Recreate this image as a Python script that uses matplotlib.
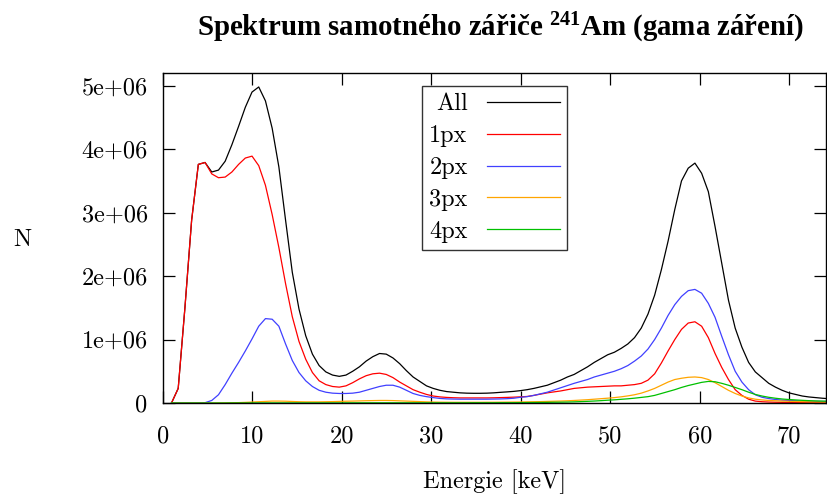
import numpy as np
import matplotlib
matplotlib.use("Agg")
import matplotlib.pyplot as plt

# Energy bin centres [keV]
energy = np.round(0.95 + 0.75 * np.arange(99), 2)

# Counts in millions
all_px = [0, 0.23, 1.50, 2.88, 3.76, 3.79, 3.64, 3.67, 3.81, 4.07,
          4.36, 4.66, 4.90, 4.98, 4.76, 4.33, 3.72, 2.88, 2.06, 1.48,
          1.06, 0.77, 0.59, 0.49, 0.44, 0.42, 0.44, 0.50, 0.57, 0.66,
          0.73, 0.78, 0.77, 0.71, 0.62, 0.51, 0.41, 0.34, 0.27, 0.23,
          0.20, 0.18, 0.17, 0.16, 0.155, 0.153, 0.153, 0.155, 0.16, 0.168,
          0.175, 0.183, 0.195, 0.21, 0.23, 0.255, 0.28, 0.32, 0.36, 0.41,
          0.45, 0.51, 0.57, 0.64, 0.70, 0.76, 0.80, 0.86, 0.93, 1.03,
          1.18, 1.40, 1.70, 2.10, 2.55, 3.05, 3.50, 3.70, 3.78, 3.62,
          3.33, 2.78, 2.20, 1.62, 1.18, 0.88, 0.64, 0.49, 0.40, 0.31,
          0.25, 0.20, 0.16, 0.135, 0.11, 0.095, 0.085, 0.075, 0.068]

px1 = [0, 0.23, 1.50, 2.88, 3.76, 3.79, 3.61, 3.55, 3.56, 3.64,
       3.76, 3.86, 3.89, 3.74, 3.43, 2.97, 2.45, 1.88, 1.36, 0.97,
       0.69, 0.48, 0.35, 0.29, 0.26, 0.25, 0.27, 0.32, 0.38, 0.43,
       0.46, 0.47, 0.45, 0.40, 0.33, 0.27, 0.21, 0.17, 0.135, 0.11,
       0.096, 0.088, 0.083, 0.08, 0.08, 0.08, 0.08, 0.08, 0.082, 0.085,
       0.088, 0.092, 0.097, 0.103, 0.12, 0.14, 0.16, 0.175, 0.19, 0.21,
       0.23, 0.24, 0.25, 0.255, 0.26, 0.265, 0.27, 0.27, 0.28, 0.29,
       0.31, 0.36, 0.46, 0.63, 0.82, 1.00, 1.16, 1.26, 1.28, 1.21,
       1.03, 0.78, 0.56, 0.37, 0.21, 0.12, 0.06, 0.03, 0.02, 0.015,
       0.012, 0.01, 0.008, 0.007, 0.006, 0.005, 0.005, 0.004, 0.004]

px2 = [0, 0, 0, 0, 0, 0.005, 0.04, 0.13, 0.29, 0.47,
       0.64, 0.82, 1.01, 1.21, 1.33, 1.32, 1.21, 0.93, 0.67, 0.48,
       0.35, 0.26, 0.20, 0.17, 0.155, 0.15, 0.15, 0.155, 0.17, 0.20,
       0.23, 0.26, 0.28, 0.28, 0.25, 0.20, 0.15, 0.12, 0.10, 0.085,
       0.072, 0.065, 0.062, 0.06, 0.06, 0.06, 0.06, 0.06, 0.062, 0.064,
       0.068, 0.075, 0.09, 0.10, 0.12, 0.145, 0.17, 0.205, 0.24, 0.275,
       0.31, 0.34, 0.37, 0.41, 0.44, 0.47, 0.50, 0.54, 0.59, 0.66,
       0.74, 0.85, 1.00, 1.18, 1.38, 1.55, 1.68, 1.77, 1.79, 1.73,
       1.57, 1.35, 1.05, 0.76, 0.50, 0.33, 0.21, 0.13, 0.09, 0.07,
       0.055, 0.045, 0.04, 0.035, 0.03, 0.028, 0.026, 0.025, 0.024]

px3 = [0, 0, 0, 0, 0, 0, 0, 0.001, 0.002, 0.004,
       0.006, 0.01, 0.015, 0.02, 0.025, 0.03, 0.03, 0.028, 0.024, 0.02,
       0.018, 0.018, 0.018, 0.02, 0.022, 0.025, 0.028, 0.03, 0.033, 0.036,
       0.038, 0.04, 0.04, 0.038, 0.034, 0.03, 0.026, 0.022, 0.018, 0.015,
       0.013, 0.012, 0.011, 0.011, 0.011, 0.011, 0.011, 0.012, 0.012, 0.013,
       0.014, 0.015, 0.016, 0.018, 0.02, 0.022, 0.025, 0.028, 0.031, 0.035,
       0.04, 0.046, 0.052, 0.06, 0.068, 0.076, 0.085, 0.097, 0.112, 0.13,
       0.155, 0.19, 0.23, 0.28, 0.33, 0.37, 0.39, 0.405, 0.41, 0.40,
       0.37, 0.32, 0.26, 0.20, 0.15, 0.11, 0.08, 0.06, 0.048, 0.04,
       0.035, 0.03, 0.027, 0.024, 0.021, 0.019, 0.017, 0.015, 0.014]

px4 = [0, 0, 0, 0, 0, 0, 0, 0, 0, 0.001,
       0.001, 0.001, 0.002, 0.002, 0.002, 0.002, 0.002, 0.002, 0.002, 0.002,
       0.002, 0.002, 0.002, 0.002, 0.002, 0.002, 0.003, 0.003, 0.003, 0.003,
       0.003, 0.003, 0.003, 0.003, 0.003, 0.003, 0.003, 0.003, 0.003, 0.003,
       0.003, 0.003, 0.003, 0.003, 0.003, 0.004, 0.004, 0.004, 0.004, 0.005,
       0.005, 0.005, 0.006, 0.007, 0.008, 0.009, 0.01, 0.012, 0.013, 0.015,
       0.018, 0.022, 0.026, 0.031, 0.037, 0.044, 0.05, 0.058, 0.066, 0.076,
       0.088, 0.10, 0.12, 0.15, 0.18, 0.21, 0.245, 0.275, 0.30, 0.325,
       0.34, 0.335, 0.31, 0.28, 0.245, 0.21, 0.17, 0.135, 0.11, 0.09,
       0.075, 0.063, 0.055, 0.048, 0.042, 0.037, 0.033, 0.03, 0.028]

series_labels = ["All", "1px", "2px", "3px", "4px"]
series_colors = ["#000000", "#ff0000", "#4040ff", "#ffa500", "#00c000"]

x_ticks = [0, 10, 20, 30, 40, 50, 60, 70]
y_ticks = [0, 1e6, 2e6, 3e6, 4e6, 5e6]
y_tick_labels = ["0", "1e+06", "2e+06", "3e+06", "4e+06", "5e+06"]

plt.rcParams['mathtext.fontset'] = 'custom'
plt.rcParams['mathtext.rm'] = 'Liberation Serif'
plt.rcParams['mathtext.bf'] = 'Liberation Serif:bold'
plt.rcParams['axes.unicode_minus'] = False
FONT = ['cmr10', 'DejaVu Serif']
FS = 17.5

fig = plt.figure(figsize=(8.27, 4.94), dpi=100)
ax = fig.add_axes([163 / 827, 1 - 403 / 494, 663 / 827, 330 / 494])

series = [all_px, px1, px2, px3, px4]
for vals, lab, col in zip(series, series_labels, series_colors):
    ax.plot(energy, np.array(vals) * 1e6, color=col, lw=0.9, label=lab)

ax.set_xlim(0, 74.1)
ax.set_ylim(0, 5.2e6)
ax.set_xticks(x_ticks)
ax.set_xticklabels([str(t) for t in x_ticks], fontfamily=FONT, fontsize=FS)
ax.set_yticks(y_ticks)
ax.set_yticklabels(y_tick_labels, fontfamily=FONT, fontsize=FS)
ax.tick_params(direction='in', length=8.5, width=0.9, top=True, right=True,
               pad=11, color='black')
ax.tick_params(axis='x', pad=16)
for s in ax.spines.values():
    s.set_linewidth(1.0)

ax.set_xlabel("Energie [keV]", fontfamily=FONT, fontsize=FS, labelpad=16)
fig.text(22 / 827, 1 - 240 / 494, "N", fontfamily=FONT, fontsize=FS,
         ha='center', va='center')

fig.text(500 / 827, 1 - 28 / 494,
         r"Spektrum samotného zářiče $\mathbf{^{241}}$Am (gama záření)",
         fontfamily='Liberation Serif', fontweight='bold', fontsize=20.8,
         ha='center', va='center')

leg = ax.legend(loc='upper left', bbox_to_anchor=((422 - 163) / 663, (403 - 86) / 330),
                borderaxespad=0, markerfirst=False, frameon=True, fancybox=False,
                edgecolor='black', prop={'family': FONT, 'size': FS},
                handlelength=3.0, handletextpad=0.8, labelspacing=0.40,
                borderpad=0.3)
leg.get_frame().set_linewidth(1.0)

fig.savefig("out.png", dpi=100)
